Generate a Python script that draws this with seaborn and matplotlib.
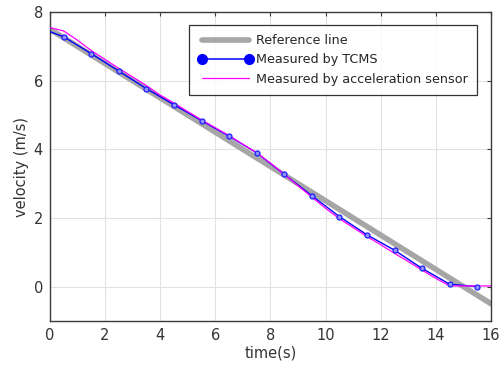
import numpy as np
import pandas as pd
import matplotlib
matplotlib.use("Agg")
import matplotlib.pyplot as plt
from matplotlib.lines import Line2D
import seaborn as sns

# Data
ref_t = [0, 16]
ref_v = [7.5, -0.5]

tcms_t = [0, 0.5, 1.5, 2.5, 3.5, 4.5, 5.5, 6.5, 7.5, 8.5, 9.5, 10.5, 11.5, 12.5, 13.5, 14.5, 15.5]
tcms_v = [7.43, 7.28, 6.79, 6.28, 5.77, 5.30, 4.84, 4.38, 3.90, 3.27, 2.65, 2.04, 1.51, 1.06, 0.53, 0.07, 0.0]

acc_t = [0, 0.5, 1, 1.5, 2, 2.5, 3, 3.5, 4, 4.5, 5, 5.5, 6, 6.5, 7, 7.5, 8, 8.5, 9, 9.5, 10,
         10.5, 11, 11.5, 12, 12.5, 13, 13.5, 14, 14.5, 15, 15.5, 16]
acc_v = [7.55, 7.45, 7.18, 6.88, 6.62, 6.36, 6.11, 5.86, 5.58, 5.35, 5.10, 4.86, 4.63, 4.40, 4.15,
         3.90, 3.60, 3.27, 2.94, 2.61, 2.28, 1.98, 1.72, 1.46, 1.22, 0.97, 0.73, 0.48, 0.24, 0.02,
         0.02, 0.02, 0.02]

labels = ["Reference line", "Measured by TCMS", "Measured by acceleration sensor"]

sns.set_style("white")
plt.rcParams['font.family'] = ['DejaVu Sans']

fig = plt.figure(figsize=(4.99, 3.78), dpi=100)
ax = fig.add_axes([0.100, 0.151, 0.884, 0.817])

ref_df = pd.DataFrame({"t": ref_t, "v": ref_v})
tcms_df = pd.DataFrame({"t": tcms_t, "v": tcms_v})
acc_df = pd.DataFrame({"t": acc_t, "v": acc_v})

sns.lineplot(data=ref_df, x="t", y="v", ax=ax, color="#a6a6a6", linewidth=4, zorder=2)
sns.lineplot(data=tcms_df, x="t", y="v", ax=ax, color="#0000ff", linewidth=1.0, zorder=3)
ax.plot(tcms_df["t"][1:], tcms_df["v"][1:], linestyle="none", marker="o", markersize=3.6,
        markerfacecolor="#9090ff", markeredgecolor="#2020ff", markeredgewidth=0.9, zorder=4)
sns.lineplot(data=acc_df, x="t", y="v", ax=ax, color="#ff00ff", linewidth=0.9, zorder=3)

ax.set_xlim(0, 16)
ax.set_ylim(-1, 8)
ax.set_xticks(np.arange(0, 17, 2))
ax.set_yticks([0, 2, 4, 6, 8])
ax.grid(True, color="#e2e2e2", linewidth=0.8)
ax.set_axisbelow(True)
for s in ax.spines.values():
    s.set_color("#3a3a3a")
    s.set_linewidth(1.0)
ax.tick_params(direction="in", length=3, width=0.8, top=True, right=True,
               colors="#3a3a3a", labelsize=10.5, labelcolor="#333333", pad=5)
ax.set_xlabel("time(s)", fontsize=10.5, color="#333333", labelpad=2)
ax.set_ylabel("velocity (m/s)", fontsize=10.5, color="#333333", labelpad=3)

handles = [
    Line2D([], [], color="#a6a6a6", linewidth=4),
    Line2D([], [], color="#0000ff", linewidth=1.1, marker="o", markersize=7,
           markerfacecolor="#0000ff", markeredgecolor="#0000ff"),
    Line2D([], [], color="#ff00ff", linewidth=0.9),
]
leg = ax.legend(handles, labels, loc="upper right", bbox_to_anchor=(0.968, 0.958),
                borderaxespad=0, fontsize=9.2, frameon=True, fancybox=False,
                numpoints=2, handlelength=4.3, handletextpad=0.25, labelspacing=0.5,
                borderpad=0.7)
leg.get_frame().set_edgecolor("#000000")
leg.get_frame().set_linewidth(0.9)

fig.savefig("out.png", dpi=100)
